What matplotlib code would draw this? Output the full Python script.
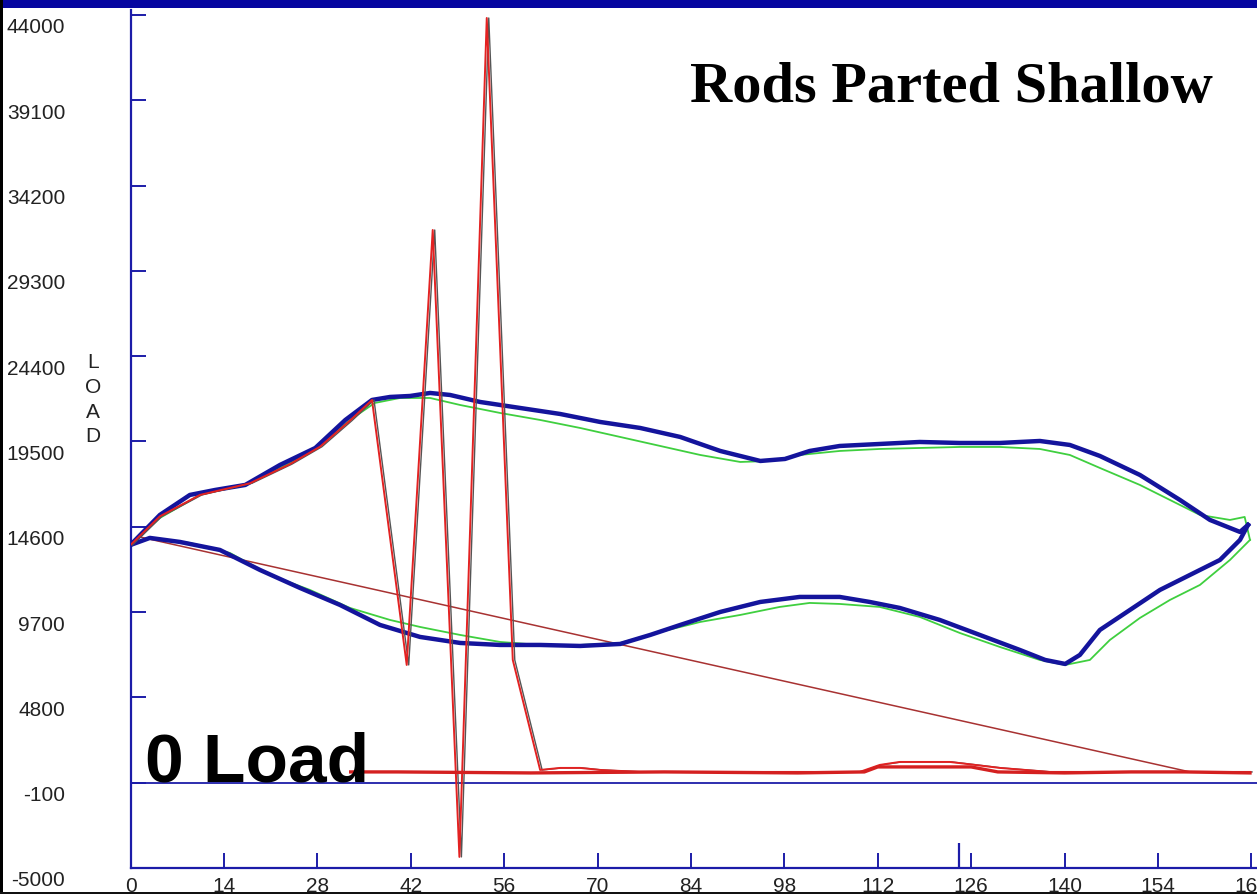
import matplotlib
matplotlib.use("Agg")
import matplotlib.pyplot as plt
from matplotlib import font_manager
from matplotlib.patches import Rectangle
from matplotlib.transforms import ScaledTranslation

# ---- data -------------------------------------------------------------
x_ticks = [0, 14, 28, 42, 56, 70, 84, 98, 112, 126, 140, 154, 168]
y_ticks = [44000, 39100, 34200, 29300, 24400, 19500, 14600, 9700, 4800, -100, -5000]

# reference card (thick blue)
blue_up_x = [0, 4.4, 8.9, 12.7, 17.2, 22.4, 27.7, 32.2, 36.2, 38.9, 41.9, 44.9, 47.9,
             52.4, 58.4, 64.4, 70.4, 76.4, 82.4, 88.4, 94.4, 98.1, 101.8, 106.3, 112.3,
             118.3, 124.3, 130.3, 136.3, 140.8, 145.3, 151.3, 157.3, 161.8, 166.3, 167.5]
blue_up_y = [13557, 15281, 16430, 16717, 17004, 18152, 19128, 20737, 21886, 22058, 22115,
             22288, 22173, 21771, 21426, 21081, 20622, 20277, 19760, 18956, 18382, 18497,
             18956, 19243, 19358, 19473, 19415, 19415, 19530, 19301, 18669, 17578, 16142,
             14994, 14305, 14707]
blue_dn_x = [0, 2.9, 7.4, 13.4, 19.4, 25.4, 31.4, 37.4, 43.4, 49.4, 55.4, 61.4, 67.4,
             73.4, 77.9, 82.4, 88.4, 94.4, 100.3, 106.3, 110.8, 115.3, 121.3, 127.3,
             133.3, 137.1, 140.1, 142.3, 145.3, 149.8, 154.3, 158.8, 163.3, 166.3, 167.5]
blue_dn_y = [13557, 13961, 13731, 13270, 12122, 11088, 10111, 8962, 8273, 7928, 7813,
             7813, 7755, 7870, 8388, 8962, 9709, 10283, 10571, 10571, 10283, 9939, 9249,
             8388, 7526, 6951, 6722, 7239, 8675, 9823, 10973, 11835, 12696, 13846, 14707]

# predicted card (thin green)
green_up_x = [0, 4.4, 10.4, 17.9, 23.9, 28.4, 32.9, 36.6, 40.4, 44.9, 49.4, 55.4, 61.4,
              67.4, 73.4, 79.4, 85.4, 91.4, 95.8, 100.3, 106.3, 112.3, 118.3, 124.3,
              130.3, 136.3, 140.8, 145.3, 151.3, 155.8, 160.3, 164.8, 167.0, 167.8]
green_up_y = [13557, 15108, 16430, 17118, 18267, 19301, 20737, 21713, 22000, 22000,
              21598, 21139, 20737, 20277, 19760, 19243, 18726, 18324, 18382, 18726,
              18956, 19071, 19128, 19186, 19186, 19071, 18726, 17980, 17004, 16142,
              15281, 14994, 15166, 13846]
green_dn_x = [0, 2.9, 8.9, 14.9, 20.9, 26.9, 32.9, 38.9, 43.4, 49.4, 55.4, 61.4, 67.4,
              73.4, 79.4, 85.4, 91.4, 97.3, 101.8, 106.3, 112.3, 118.3, 124.3, 130.3,
              136.3, 140.1, 143.8, 146.8, 151.3, 155.8, 160.3, 164.8, 167.8]
green_dn_y = [13557, 13961, 13674, 13098, 11835, 10973, 9939, 9249, 8847, 8388, 7985,
              7813, 7813, 7928, 8560, 9134, 9537, 9996, 10226, 10168, 9996, 9422, 8502,
              7698, 6951, 6664, 6951, 8100, 9364, 10398, 11261, 12696, 13846]

# measured card after the rod part (red)
red_x = [0, 4.4, 10.4, 17.9, 23.9, 28.4, 32.9, 36.2, 41.4, 45.3, 49.3, 53.4, 57.3,
         61.4, 64.4, 67.4, 70.4, 76.4, 109.3, 112.3, 115.3, 122.8, 126.6, 130.3,
         137.8, 167.8]
red_y = [13557, 15200, 16430, 17100, 18200, 19200, 20700, 21886, 6664, 31650, -4364,
         43828, 6951, 633, 749, 749, 633, 519, 519, 921, 1093, 1093, 921, 749, 519, 519]
red_ret_x = [167.8, 158.0, 150.0, 140.0, 130.0, 126.0, 118.0, 112.0, 110.0, 100.0,
             80.0, 60.0, 40.0, 33.0]
red_ret_y = [461, 519, 519, 461, 519, 806, 806, 806, 519, 461, 519, 461, 519, 519]
red_close_x = [158.8, 1.4]
red_close_y = [519, 14016]

marker_tick = 124.2
zero_line = -100

# ---- fonts ------------------------------------------------------------
_names = {f.name for f in font_manager.fontManager.ttflist}
tick_font = "Liberation Sans Narrow" if "Liberation Sans Narrow" in _names else "Liberation Sans"
tick_size = 17 if tick_font == "Liberation Sans Narrow" else 15

# ---- figure -----------------------------------------------------------
W, H = 1257, 894
fig = plt.figure(figsize=(W / 100, H / 100), dpi=100)
fig.patch.set_facecolor("white")

navy = "#1c1ca8"
ax = fig.add_axes([130.5 / W, 26 / H, (W - 130.5) / W, 858 / H])
ax.set_xlim(0, 168.85)
ax.set_ylim(-5000, 44287)
ax.set_facecolor("white")

for s in ("top", "right"):
    ax.spines[s].set_visible(False)
for s in ("left", "bottom"):
    ax.spines[s].set_color(navy)
    ax.spines[s].set_linewidth(1.6)

ax.set_xticks(x_ticks)
ax.set_xticklabels([str(v) for v in x_ticks])
ax.set_yticks(y_ticks)
ax.set_yticklabels([str(v) for v in y_ticks])
ax.set_xticks([marker_tick], minor=True)
ax.tick_params(axis="both", which="major", direction="in", length=11, width=1.4,
               color=navy, labelsize=tick_size, labelcolor="#222222")
ax.tick_params(axis="y", pad=47)
ax.tick_params(axis="x", pad=6.5)
ax.tick_params(axis="x", which="minor", direction="in", length=18, width=1.6, color=navy)
ax.tick_params(axis="x", which="minor", labelbottom=False)

# value labels sit a little below their tick marks
drop = ScaledTranslation(0, -11 / 100, fig.dpi_scale_trans)
for lab in ax.get_yticklabels():
    lab.set_fontfamily(tick_font)
    lab.set_transform(lab.get_transform() + drop)
for lab in ax.get_xticklabels():
    lab.set_fontfamily(tick_font)

ax.axhline(zero_line, color=navy, lw=1.3, zorder=2)

# cards
ax.plot(red_close_x, red_close_y, color="#a83232", lw=1.1, zorder=3)
ax.plot(green_up_x, green_up_y, color="#3fcf3f", lw=1.3, zorder=4)
ax.plot(green_dn_x, green_dn_y, color="#3fcf3f", lw=1.3, zorder=4)
ax.plot(blue_up_x, blue_up_y, color="#14149c", lw=3.2, zorder=5, solid_joinstyle="round")
ax.plot(blue_dn_x, blue_dn_y, color="#14149c", lw=3.2, zorder=5, solid_joinstyle="round")
shadow = ax.transData + ScaledTranslation(2 / 100, 0, fig.dpi_scale_trans)
ax.plot(red_x, red_y, color="#555555", lw=1.0, zorder=5.5, transform=shadow)
ax.plot(red_x, red_y, color="#e32222", lw=1.4, zorder=6)
ax.plot(red_ret_x, red_ret_y, color="#d42020", lw=2.4, zorder=6)

# annotations
fig.text(690 / W, 1 - 102 / H, "Rods Parted Shallow", fontfamily="Liberation Serif",
         fontweight="bold", fontsize=42, color="black", va="baseline", ha="left")
fig.text(145 / W, 1 - 782 / H, "0 Load", fontfamily="Liberation Sans",
         fontweight="bold", fontsize=50, color="black", va="baseline", ha="left",
         zorder=10)
for i, ch in enumerate("LOAD"):
    fig.text(93 / W, 1 - (363 + 24.5 * i) / H, ch, fontfamily=tick_font,
             fontsize=tick_size, color="#222222", ha="center", va="center")

# window frame
fig.add_artist(Rectangle((0, 1 - 8 / H), 1, 8 / H, transform=fig.transFigure,
                         facecolor="#0606a0", edgecolor="none", zorder=20))
fig.add_artist(Rectangle((0, 0), 3 / W, 1, transform=fig.transFigure,
                         facecolor="black", edgecolor="none", zorder=20))
fig.add_artist(Rectangle((0, 0), 1, 2.5 / H, transform=fig.transFigure,
                         facecolor="#111111", edgecolor="none", zorder=20))

fig.savefig("out.png", dpi=100, facecolor="white")
